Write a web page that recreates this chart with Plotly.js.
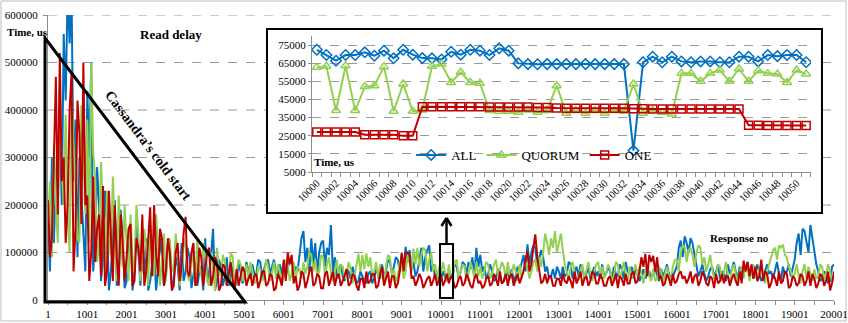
<!DOCTYPE html>
<html><head><meta charset="utf-8">
<script src="https://cdn.plot.ly/plotly-3.0.1.min.js"></script>
<style>html,body{margin:0;padding:0;background:#fff}#chart{width:848px;height:323px}</style>
</head><body><div id="chart"></div>
<script>
// ---------- DATA ----------
// Main chart: response number starts at 1, one sample every 50 responses (values in us)
const mainStart = 1;
const mainStep = 50;
const allMain = [
180e3,60e3,300e3,120e3,250e3,330e3,370e3,200e3,560e3,420e3,650e3,540e3,640e3,250e3,380e3,90e3,300e3,210e3,150e3,60e3,
440e3,300e3,500e3,60e3,120e3,280e3,200e3,40e3,90e3,230e3,160e3,20e3,60e3,140e3,210e3,30e3,50e3,190e3,130e3,25e3,
40e3,100e3,150e3,20e3,60e3,170e3,110e3,30e3,90e3,50e3,130e3,20e3,40e3,80e3,110e3,20e3,60e3,130e3,90e3,30e3,
50e3,120e3,100e3,30e3,40e3,90e3,70e3,20e3,120e3,40e3,60e3,110e3,90e3,25e3,50e3,80e3,30e3,60e3,70e3,20e3,
130e3,40e3,60e3,95e3,150e3,20e3,40e3,85e3,70e3,30e3,50e3,90e3,30e3,60e3,70e3,25e3,40e3,80e3,60e3,35e3,
50e3,80e3,60e3,45e3,75e3,55e3,55e3,85e3,80e3,50e3,65e3,80e3,85e3,55e3,70e3,85e3,60e3,45e3,75e3,55e3,
80e3,50e3,65e3,85e3,90e3,55e3,70e3,60e3,95e3,130e3,145e3,80e3,110e3,60e3,130e3,75e3,120e3,55e3,100e3,120e3,
125e3,70e3,110e3,95e3,158e3,60e3,90e3,45e3,60e3,75e3,50e3,40e3,65e3,60e3,45e3,70e3,55e3,35e3,40e3,60e3,
50e3,40e3,35e3,55e3,60e3,35e3,45e3,65e3,55e3,45e3,75e3,50e3,60e3,85e3,80e3,55e3,70e3,90e3,85e3,60e3,
95e3,70e3,112e3,80e3,105e3,65e3,80e3,50e3,60e3,90e3,110e3,60e3,90e3,105e3,115e3,60e3,75e3,45e3,55e3,40e3,
45e3,60e3,50e3,40e3,65e3,50e3,55e3,75e3,70e3,45e3,60e3,80e3,75e3,55e3,80e3,65e3,90e3,50e3,110e3,70e3,
95e3,60e3,70e3,45e3,55e3,75e3,60e3,40e3,45e3,65e3,50e3,35e3,40e3,60e3,55e3,45e3,65e3,40e3,50e3,70e3,
60e3,80e3,95e3,60e3,117e3,75e3,100e3,115e3,110e3,70e3,85e3,105e3,90e3,60e3,70e3,45e3,50e3,65e3,45e3,70e3,
60e3,45e3,70e3,50e3,55e3,80e3,75e3,45e3,60e3,70e3,50e3,75e3,65e3,45e3,55e3,70e3,45e3,60e3,70e3,50e3,
60e3,45e3,75e3,50e3,55e3,70e3,60e3,45e3,70e3,55e3,50e3,75e3,65e3,45e3,80e3,60e3,55e3,70e3,45e3,65e3,
60e3,40e3,50e3,65e3,45e3,55e3,60e3,45e3,55e3,70e3,50e3,40e3,65e3,50e3,60e3,75e3,55e3,45e3,50e3,60e3,
70e3,110e3,125e3,90e3,134e3,120e3,100e3,130e3,120e3,95e3,75e3,50e3,60e3,75e3,55e3,40e3,50e3,65e3,70e3,50e3,
60e3,75e3,45e3,60e3,55e3,40e3,75e3,55e3,65e3,80e3,60e3,45e3,70e3,55e3,55e3,70e3,80e3,50e3,65e3,45e3,
60e3,75e3,55e3,40e3,50e3,65e3,75e3,55e3,60e3,45e3,65e3,80e3,55e3,40e3,70e3,55e3,60e3,75e3,50e3,65e3,
85e3,120e3,140e3,95e3,150e3,145e3,125e3,100e3,158e3,130e3,110e3,75e3,60e3,40e3,45e3,60e3,55e3,35e3,40e3,70e3,
75e3];
const quorumMain = [
150e3,250e3,90e3,330e3,200e3,120e3,440e3,280e3,200e3,390e3,180e3,100e3,430e3,340e3,250e3,130e3,120e3,410e3,300e3,180e3,
380e3,120e3,500e3,310e3,260e3,80e3,120e3,290e3,180e3,60e3,230e3,140e3,90e3,260e3,150e3,40e3,220e3,120e3,70e3,200e3,
120e3,40e3,180e3,90e3,60e3,200e3,140e3,40e3,80e3,150e3,110e3,30e3,160e3,90e3,50e3,180e3,120e3,30e3,90e3,140e3,
40e3,110e3,130e3,60e3,70e3,140e3,100e3,30e3,60e3,130e3,110e3,50e3,40e3,100e3,80e3,30e3,130e3,70e3,50e3,120e3,
90e3,40e3,30e3,100e3,70e3,20e3,110e3,60e3,50e3,95e3,80e3,30e3,40e3,100e3,90e3,20e3,60e3,85e3,75e3,40e3,
50e3,75e3,45e3,80e3,60e3,35e3,40e3,70e3,65e3,40e3,50e3,85e3,70e3,40e3,55e3,80e3,45e3,75e3,60e3,35e3,
50e3,85e3,75e3,40e3,55e3,80e3,40e3,70e3,65e3,45e3,80e3,55e3,70e3,100e3,95e3,60e3,85e3,50e3,60e3,95e3,
90e3,50e3,75e3,90e3,55e3,40e3,60e3,85e3,45e3,75e3,70e3,45e3,55e3,80e3,65e3,35e3,50e3,75e3,97e3,60e3,
95e3,65e3,98e3,70e3,90e3,50e3,60e3,80e3,45e3,75e3,55e3,35e3,70e3,95e3,90e3,50e3,65e3,40e3,50e3,80e3,
75e3,45e3,60e3,95e3,80e3,60e3,108e3,75e3,110e3,70e3,95e3,110e3,105e3,60e3,85e3,100e3,60e3,75e3,45e3,70e3,
55e3,80e3,60e3,40e3,75e3,45e3,50e3,80e3,85e3,45e3,60e3,75e3,70e3,40e3,55e3,80e3,65e3,45e3,80e3,50e3,
70e3,45e3,60e3,80e3,75e3,45e3,55e3,75e3,85e3,50e3,65e3,80e3,70e3,45e3,80e3,50e3,55e3,75e3,60e3,40e3,
75e3,45e3,65e3,80e3,70e3,45e3,60e3,80e3,85e3,60e3,90e3,70e3,100e3,140e3,120e3,95e3,130e3,110e3,145e3,100e3,
120e3,140e3,105e3,75e3,60e3,40e3,70e3,80e3,60e3,35e3,50e3,65e3,75e3,45e3,65e3,80e3,55e3,40e3,60e3,75e3,
80e3,50e3,70e3,45e3,55e3,75e3,65e3,40e3,50e3,80e3,75e3,45e3,60e3,80e3,55e3,40e3,70e3,45e3,60e3,75e3,
50e3,70e3,55e3,35e3,60e3,75e3,50e3,40e3,65e3,40e3,45e3,70e3,60e3,35e3,55e3,70e3,50e3,40e3,70e3,85e3,
85e3,60e3,100e3,115e3,110e3,80e3,105e3,110e3,95e3,70e3,100e3,115e3,110e3,75e3,90e3,60e3,75e3,95e3,65e3,45e3,
55e3,75e3,70e3,40e3,60e3,80e3,50e3,35e3,65e3,75e3,55e3,40e3,60e3,70e3,45e3,75e3,70e3,40e3,60e3,75e3,
55e3,40e3,65e3,75e3,50e3,35e3,60e3,75e3,85e3,105e3,110e3,85e3,115e3,110e3,117e3,95e3,90e3,70e3,60e3,45e3,
55e3,75e3,50e3,35e3,60e3,75e3,45e3,70e3,55e3,40e3,65e3,45e3,50e3,75e3,70e3,40e3,55e3,75e3,60e3,40e3,
45e3];
const oneMain = [
210e3,90e3,130e3,300e3,470e3,180e3,520e3,250e3,300e3,120e3,200e3,400e3,480e3,60e3,150e3,420e3,350e3,160e3,500e3,200e3,
220e3,40e3,100e3,260e3,80e3,150e3,180e3,50e3,240e3,30e3,60e3,230e3,140e3,40e3,200e3,90e3,30e3,180e3,120e3,40e3,
90e3,150e3,160e3,30e3,40e3,130e3,110e3,60e3,180e3,30e3,60e3,140e3,195e3,50e3,200e3,100e3,50e3,150e3,130e3,30e3,
60e3,130e3,100e3,20e3,30e3,100e3,120e3,40e3,70e3,140e3,175e3,60e3,50e3,100e3,120e3,30e3,40e3,110e3,90e3,30e3,
60e3,100e3,110e3,30e3,50e3,90e3,80e3,20e3,30e3,75e3,70e3,30e3,55e3,80e3,40e3,25e3,65e3,30e3,50e3,70e3,
60e3,30e3,45e3,55e3,30e3,50e3,55e3,25e3,40e3,60e3,60e3,30e3,35e3,55e3,50e3,20e3,25e3,55e3,45e3,30e3,
85e3,40e3,100e3,75e3,95e3,35e3,50e3,20e3,30e3,60e3,55e3,25e3,40e3,60e3,70e3,30e3,35e3,55e3,50e3,25e3,
25e3,55e3,60e3,30e3,45e3,60e3,30e3,50e3,55e3,30e3,40e3,55e3,65e3,30e3,35e3,55e3,50e3,30e3,20e3,45e3,
45e3,25e3,60e3,35e3,40e3,55e3,55e3,25e3,30e3,55e3,70e3,30e3,45e3,60e3,25e3,50e3,50e3,25e3,35e3,60e3,
100e3,60e3,98e3,100e3,95e3,45e3,50e3,30e3,40e3,55e3,45e3,25e3,35e3,45e3,50e3,30e3,40e3,55e3,30e3,45e3,
55e3,30e3,40e3,55e3,35e3,50e3,45e3,25e3,30e3,45e3,50e3,30e3,35e3,55e3,45e3,30e3,25e3,45e3,55e3,35e3,
40e3,25e3,30e3,45e3,50e3,30e3,35e3,55e3,45e3,30e3,60e3,35e3,40e3,55e3,30e3,50e3,55e3,30e3,45e3,55e3,
35e3,50e3,60e3,85e3,103e3,60e3,75e3,110e3,138e3,90e3,60e3,35e3,40e3,55e3,35e3,50e3,50e3,30e3,30e3,45e3,
45e3,30e3,55e3,40e3,35e3,50e3,40e3,25e3,60e3,35e3,45e3,60e3,30e3,45e3,50e3,30e3,40e3,60e3,55e3,35e3,
35e3,55e3,45e3,30e3,30e3,45e3,50e3,30e3,40e3,55e3,25e3,50e3,45e3,30e3,55e3,35e3,35e3,55e3,60e3,35e3,
40e3,60e3,90e3,70e3,97e3,50e3,95e3,80e3,93e3,60e3,90e3,45e3,50e3,30e3,35e3,55e3,45e3,30e3,55e3,35e3,
40e3,55e3,60e3,45e3,50e3,35e3,45e3,60e3,35e3,50e3,55e3,30e3,40e3,60e3,50e3,35e3,30e3,50e3,45e3,25e3,
55e3,35e3,40e3,55e3,35e3,50e3,50e3,30e3,45e3,55e3,40e3,30e3,60e3,35e3,83e3,60e3,80e3,50e3,75e3,45e3,
70e3,40e3,50e3,85e3,40e3,60e3,55e3,25e3,35e3,55e3,45e3,30e3,60e3,35e3,40e3,60e3,55e3,25e3,30e3,50e3,
45e3,30e3,35e3,55e3,50e3,30e3,40e3,60e3,30e3,55e3,45e3,25e3,35e3,55e3,50e3,30e3,40e3,60e3,20e3,35e3,
60e3];

// Inset: responses 10000..10051
const insetStart = 10000;
const insetStep = 1;
const allInset = [
72400,69500,66400,69500,69500,71000,69100,71900,67700,72400,
69700,67800,67700,67100,71300,69700,72400,71900,69500,73200,
71900,64900,64500,64400,64500,64500,64500,64500,64500,64500,
64500,64500,64500,16800,65500,68600,65500,68600,66000,65500,
66000,66000,65500,65500,68600,68600,66000,69500,68900,69500,
69500,65500];
const quorumInset = [
62700,63300,38900,63600,38900,52100,52600,63100,38500,53500,
38500,39200,63300,64500,54400,60000,54400,53900,38900,38500,
38500,37900,39200,37900,38900,52600,37400,38900,37400,38900,
37400,38900,38500,53500,37400,38900,37900,37000,59400,59400,
55000,59400,61200,55000,61800,55000,60900,59400,59000,54400,
61200,59000];
const oneInset = [
27000,27000,27000,27000,27000,25500,25500,25500,25500,25000,
25000,41000,41000,41000,41000,41000,41000,41000,40800,40800,
40800,40800,40800,40600,40600,40300,40200,40200,40100,40100,
40100,40100,40100,39900,39900,39800,39800,39800,39800,39800,
39800,39800,39800,39800,39800,30800,30800,30600,30600,30600,
30600,30600];

const seriesNames = ['ALL', 'QUORUM', 'ONE'];
const mainGridValues = [100000, 200000, 300000, 400000, 500000, 600000];

// ---------- STYLE ----------
const BLUE = '#0070C0', GREEN = '#92D050', RED = '#C00000';
const FONT = '"Liberation Serif", "Times New Roman", serif';
const GRAY = '#8c8c8c';

const mainTraces = [[allMain, BLUE], [quorumMain, GREEN], [oneMain, RED]].map(([y, c]) => ({
  type: 'scatter', mode: 'lines', x0: mainStart, dx: mainStep, y: y,
  line: {color: c, width: 2}, xaxis: 'x', yaxis: 'y', showlegend: false, hoverinfo: 'skip'
}));

const insetSpecs = [
  [allInset, BLUE, 'diamond-open', 8],
  [quorumInset, GREEN, 'triangle-up-open', 8],
  [oneInset, RED, 'square-open', 8]
];
const insetTraces = insetSpecs.map(([y, c, sym, sz], i) => ({
  type: 'scatter', mode: 'lines+markers', name: seriesNames[i],
  x0: insetStart, dx: insetStep, y: y,
  line: {color: c, width: 2},
  marker: {symbol: sym, size: sz, color: c, line: {color: c, width: 1.5}},
  xaxis: 'x2', yaxis: 'y2', hoverinfo: 'skip'
}));

const shapes = [];
shapes.push({type: 'rect', xref: 'paper', yref: 'paper', x0: -0.0598, x1: 1.0153, y0: -0.0737, y1: 1.049,
  line: {color: '#bdbdbd', width: 1}, layer: 'below'});
mainGridValues.forEach(v => shapes.push({type: 'line', xref: 'paper', x0: 0, x1: 1, yref: 'y', y0: v, y1: v,
  line: {color: '#9a9a9a', width: 1, dash: 'dash'}, layer: 'below'}));
shapes.push({type: 'rect', xref: 'paper', yref: 'paper', x0: 0.2786, x1: 0.9847, y0: 0.3053, y1: 0.9509,
  fillcolor: '#ffffff', line: {color: '#000', width: 2}, layer: 'below'});
shapes.push({type: 'path', xref: 'paper', yref: 'paper',
  path: 'M -0.0038,0.919 L -0.0038,-0.007 L 0.2506,-0.007 Z', line: {color: '#000', width: 3}, layer: 'above'});
shapes.push({type: 'rect', xref: 'paper', yref: 'paper', x0: 0.4987, x1: 0.5153, y0: 0.007, y1: 0.1965,
  line: {color: '#000', width: 2}, layer: 'above'});
shapes.push({type: 'line', xref: 'paper', yref: 'paper', x0: 0.5070, x1: 0.5070, y0: 0.1965, y1: 0.2877,
  line: {color: '#000', width: 2.5}, layer: 'above'});
shapes.push({type: 'line', xref: 'paper', yref: 'paper', x0: 0.5070, x1: 0.5007, y0: 0.2877, y1: 0.2596,
  line: {color: '#000', width: 2.5}, layer: 'above'});
shapes.push({type: 'line', xref: 'paper', yref: 'paper', x0: 0.5070, x1: 0.5133, y0: 0.2877, y1: 0.2596,
  line: {color: '#000', width: 2.5}, layer: 'above'});

const bold = (size) => ({family: FONT, size: size, color: '#000', weight: 'bold'});
const ann = (text, x, y, size, extra) => Object.assign({text: text, xref: 'paper', yref: 'paper', x: x, y: y,
  xanchor: 'center', yanchor: 'middle', showarrow: false, font: bold(size)}, extra || {});
const annotations = [
  ann('Read delay', 0.1565, 0.9333, 13),
  ann('Time, us', -0.0267, 0.9404, 11),
  ann('Cassandra\u2019s cold start', 0.1272, 0.5404, 14, {textangle: 53}),
  ann('Response no', 0.8804, 0.2175, 11),
  ann('Time, us', 0.3651, 0.4842, 11)
];

const layout = {
  width: 848, height: 323,
  margin: {l: 48, r: 14, t: 15, b: 23, pad: 0},
  paper_bgcolor: '#ffffff', plot_bgcolor: '#ffffff',
  font: {family: FONT, size: 11, color: '#000'},
  showlegend: true,
  legend: {orientation: 'h', x: 0.462, y: 0.5088, xanchor: 'left', yanchor: 'middle',
    bgcolor: 'rgba(0,0,0,0)', font: {family: FONT, size: 13, color: '#000'}, itemwidth: 30, tracegroupgap: 0},
  xaxis: {range: [1, 20001], tickmode: 'linear', tick0: 1, dtick: 1000, tickformat: 'd',
    ticks: 'outside', ticklen: 4, tickcolor: GRAY, showline: true, linecolor: GRAY, linewidth: 1,
    showgrid: false, zeroline: false, tickfont: {family: FONT, size: 11},
    minor: {ticks: 'outside', tick0: 1, dtick: 500, ticklen: 4, tickcolor: GRAY}},
  yaxis: {range: [0, 600000], tickmode: 'linear', tick0: 0, dtick: 100000, tickformat: 'd',
    ticks: 'outside', ticklen: 4, tickcolor: GRAY, showline: true, linecolor: GRAY, linewidth: 1,
    showgrid: false, zeroline: false, tickfont: {family: FONT, size: 11}, ticklabelstandoff: 3},
  xaxis2: {domain: [0.3359, 0.9707], anchor: 'y2', range: [9999.5, 10051.5],
    tickmode: 'linear', tick0: 10000, dtick: 2, tickformat: 'd', tickangle: -45, ticks: '',
    showline: true, linecolor: GRAY, showgrid: false, zeroline: false, tickfont: {family: FONT, size: 10.5},
    minor: {ticks: 'outside', tick0: 9999.5, dtick: 1, ticklen: 4, tickcolor: GRAY}},
  yaxis2: {domain: [0.4491, 0.9263], anchor: 'x2', range: [5000, 80000],
    tickmode: 'linear', tick0: 5000, dtick: 10000, tickformat: 'd',
    ticks: 'outside', ticklen: 3, tickcolor: GRAY, showline: true, linecolor: GRAY,
    showgrid: true, gridcolor: '#9a9a9a', griddash: 'dash', gridwidth: 1, zeroline: false,
    tickfont: {family: FONT, size: 11}},
  shapes: shapes,
  annotations: annotations
};

Plotly.newPlot('chart', mainTraces.concat(insetTraces), layout, {staticPlot: true, displayModeBar: false});
</script></body></html>
